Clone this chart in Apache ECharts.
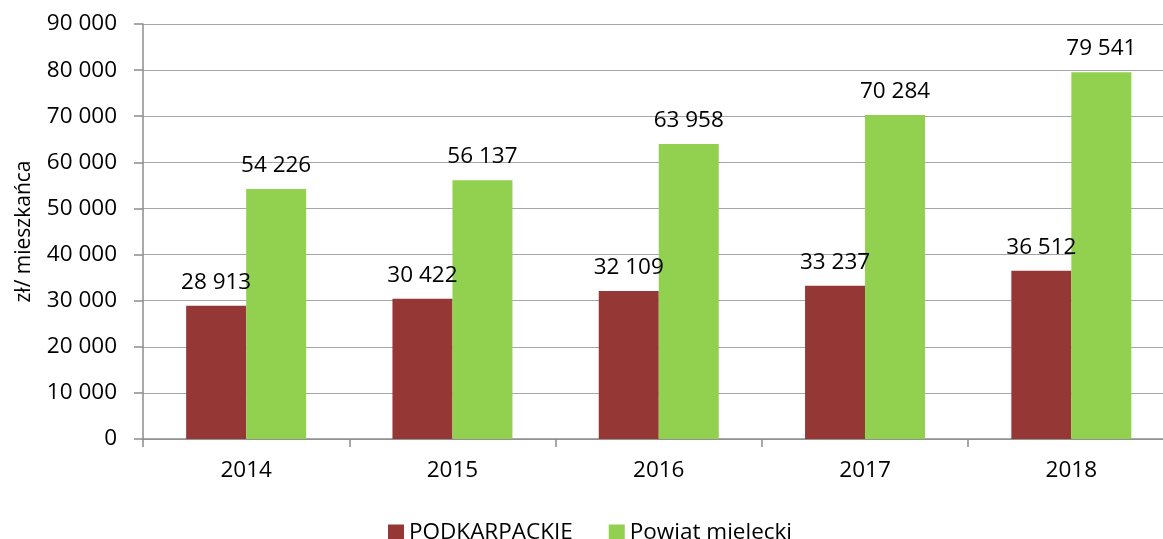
<!DOCTYPE html>
<html><head><meta charset="utf-8">
<script src="https://cdn.jsdelivr.net/npm/echarts@6/dist/echarts.min.js"></script>
<style>html,body{margin:0;padding:0;background:#fff;overflow:hidden;width:1163px;height:539px}#c{width:1175px;height:539px}</style>
</head><body><div id="c"></div>
<script>
const categories = ['2014', '2015', '2016', '2017', '2018'];
const podkarpackie = [28913, 30422, 32109, 33237, 36512];
const powiatMielecki = [54226, 56137, 63958, 70284, 79541];
const seriesNames = ['PODKARPACKIE', 'Powiat mielecki'];
const yAxisName = 'zł/ mieszkańca';

const FONT = 'Open Sans';
function fmt(v) { return String(v).replace(/\B(?=(\d{3})+(?!\d))/g, ' '); }

const chart = echarts.init(document.getElementById('c'));
const labelCfg = {
  show: true, position: 'top', distance: 12,
  color: '#000', fontFamily: FONT, fontSize: 22.5,
  formatter: p => fmt(p.value)
};
chart.setOption({
  animation: false,
  textStyle: { fontFamily: FONT },
  grid: { left: 143, top: 24, bottom: 100, right: 0.5, containLabel: false },
  legend: {
    data: seriesNames, top: 516, left: 383,
    icon: 'rect', itemWidth: 16, itemHeight: 16, itemGap: 36,
    textStyle: { fontFamily: FONT, fontSize: 22.5, color: '#000' }
  },
  xAxis: {
    type: 'category', data: categories,
    axisLine: { lineStyle: { color: '#8c8c8c', width: 1.5 } },
    axisTick: { show: true, length: 8, lineStyle: { color: '#8c8c8c', width: 1.5 } },
    axisLabel: { color: '#000', fontFamily: FONT, fontSize: 22.5, margin: 20 }
  },
  yAxis: {
    type: 'value', min: 0, max: 90000, interval: 10000,
    name: yAxisName, nameLocation: 'middle', nameGap: 108, nameRotate: 90,
    nameTextStyle: { color: '#000', fontFamily: FONT, fontSize: 21 },
    axisLine: { show: true, lineStyle: { color: '#8c8c8c', width: 1.5 } },
    axisTick: { show: true, length: 9, lineStyle: { color: '#8c8c8c', width: 1.5 } },
    splitLine: { show: true, lineStyle: { color: '#a6a6a6', width: 1.2 } },
    axisLabel: { color: '#000', fontFamily: FONT, fontSize: 22.5, margin: 26, formatter: v => fmt(v) }
  },
  series: [
    { name: seriesNames[0], type: 'bar', data: podkarpackie, barWidth: 60, barGap: '0%',
      itemStyle: { color: '#953735' }, label: labelCfg },
    { name: seriesNames[1], type: 'bar', data: powiatMielecki, barWidth: 60, barGap: '0%',
      itemStyle: { color: '#92D050' }, label: labelCfg }
  ]
});
</script></body></html>
